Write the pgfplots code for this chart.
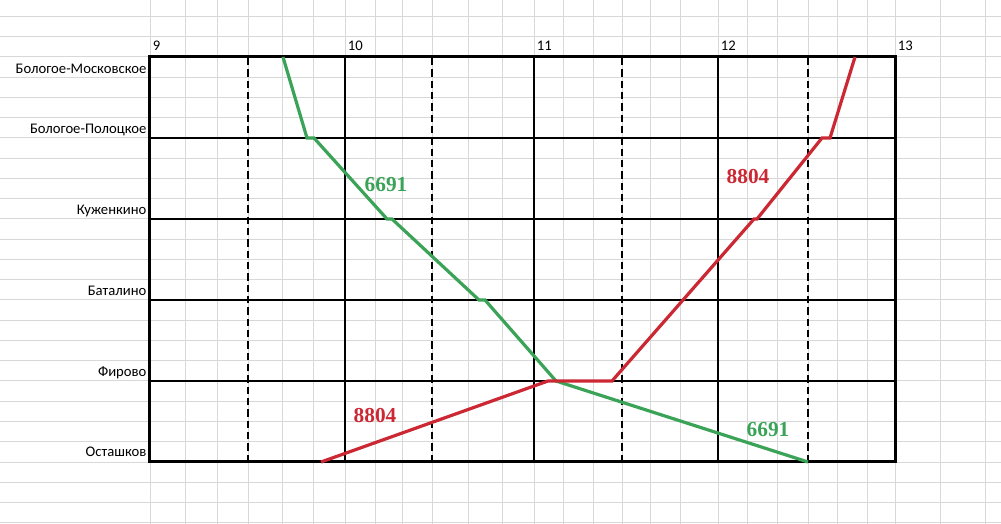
\documentclass[border=0pt]{standalone}
\usepackage{fontspec}
\setmainfont{Carlito}
\newfontfamily\numfont{Liberation Serif}
\usepackage{pgfplots}
\pgfplotsset{compat=1.18}

\definecolor{trgreen}{RGB}{58,163,88}
\definecolor{trred}{RGB}{204,40,52}
\definecolor{cellgray}{RGB}{216,216,216}

\begin{document}
\begin{tikzpicture}[x=0.75pt,y=-0.75pt]
% page = 1001 x 524 px, 1 px = 0.75 pt
\useasboundingbox (0,0) rectangle (1001,524);
% spreadsheet cells behind the chart
\foreach \r in {-2,...,23}
  \draw[cellgray, line width=0.75pt] (0,57+20.25*\r) -- (1001,57+20.25*\r);
\foreach \c in {150,185,217,248,282,313,345,375,402,432,468,502,534,563,593,622,650,680,718,747,777,808,837,867,895,940,985}
  \draw[cellgray, line width=0.75pt] (\c,0) -- (\c,524);

\begin{axis}[
    at={(112.5pt,-346.5pt)}, anchor=south west,
    scale only axis,
    width=558.75pt, height=303.75pt,
    xmin=150, xmax=895, ymin=0, ymax=5,
    axis line style={line width=2.25pt},
    major tick length=0pt, minor tick length=0pt,
    xtick={150,345,534,718,895},
    xticklabels={9,10,11,12,13},
    xticklabel pos=upper,
    xticklabel style={anchor=base west, inner sep=0pt, xshift=2pt, yshift=5pt},
    xmajorgrids,
    major grid style={black, line width=1pt},
    minor xtick={248,432,622,808},
    xminorgrids,
    minor grid style={black, line width=1.6pt, dash pattern=on 5.5pt off 3pt},
    ytick={0.062,1.06,2.06,3.056,4.05,4.80},
    yticklabels={Осташков,Фирово,Баталино,Куженкино,Бологое-Полоцкое,Бологое-Московское},
    yticklabel style={anchor=base east, inner sep=0pt, xshift=-2.5pt},
    extra y ticks={1,2,3,4},
    extra y tick labels={},
    extra y tick style={grid=major, major grid style={black, line width=1.6pt}},
    ticklabel style={font=\fontsize{11}{13}\selectfont},
    clip=false,
]
% train 6691
\addplot[trgreen, line width=2.4pt, no markers] coordinates {
    (283,5) (307,4) (314,4) (387,3) (392,3) (479,2) (485,2) (556,1) (808,0)
};
% train 8804
\addplot[trred, line width=2.4pt, no markers] coordinates {
    (321,0) (548,1) (612,1) (683,2) (754,3) (757,3) (822,4) (830,4) (855,5)
};
\node[trgreen, font=\numfont\bfseries\fontsize{16}{18}\selectfont] at (axis cs:386,3.42) {6691};
\node[trred, font=\numfont\bfseries\fontsize{16}{18}\selectfont] at (axis cs:748,3.52) {8804};
\node[trred, font=\numfont\bfseries\fontsize{16}{18}\selectfont] at (axis cs:375,0.57) {8804};
\node[trgreen, font=\numfont\bfseries\fontsize{16}{18}\selectfont] at (axis cs:768,0.40) {6691};
\end{axis}
\end{tikzpicture}
\end{document}
